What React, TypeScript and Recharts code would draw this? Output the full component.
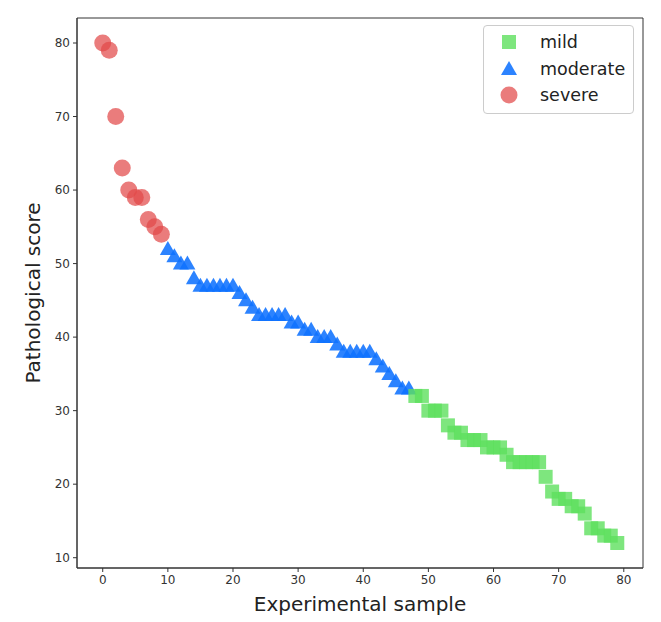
import React from 'react';
import { ScatterChart, Scatter, XAxis, YAxis, ReferenceArea, Legend } from 'recharts';

// pathological score per sample, samples sorted from worst to best
const severeScores = [80, 79, 70, 63, 60, 59, 59, 56, 55, 54];
const moderateScores = [
  52, 51, 50, 50, 48, 47, 47, 47, 47, 47, 47, 46, 45, 44, 43, 43, 43, 43, 43,
  42, 42, 41, 41, 40, 40, 40, 39, 38, 38, 38, 38, 38, 37, 36, 35, 34, 33, 33,
];
const mildScores = [
  32, 32, 30, 30, 30, 28, 27, 27, 26, 26, 26, 25, 25, 25, 24, 23, 23, 23, 23,
  23, 21, 19, 18, 18, 17, 17, 16, 14, 14, 13, 13, 12,
];

const xTicks = [0, 10, 20, 30, 40, 50, 60, 70, 80];
const yTicks = [10, 20, 30, 40, 50, 60, 70, 80];

const toPoints = (scores: number[], start: number) =>
  scores.map((y, i) => ({ x: start + i, y }));

const severeData = toPoints(severeScores, 0);
const moderateData = toPoints(moderateScores, severeScores.length);
const mildData = toPoints(mildScores, severeScores.length + moderateScores.length);

const RED = '#e24a4a';
const BLUE = '#0f72ff';
const GREEN = '#5ee05e';

const Circle = (props: any) => (
  <circle cx={props.cx} cy={props.cy} r={8.5} fill={RED} fillOpacity={0.72} />
);

const Triangle = (props: any) => {
  const { cx, cy } = props;
  return (
    <polygon
      points={`${cx},${cy - 8} ${cx - 8},${cy + 6} ${cx + 8},${cy + 6}`}
      fill={BLUE}
      fillOpacity={0.88}
    />
  );
};

const Square = (props: any) => (
  <rect x={props.cx - 7} y={props.cy - 7} width={14} height={14} fill={GREEN} fillOpacity={0.8} />
);

const legendItems = [
  { name: 'mild', icon: <rect x={3} y={3} width={14} height={14} fill={GREEN} fillOpacity={0.8} /> },
  { name: 'moderate', icon: <polygon points="10,2 2,16 18,16" fill={BLUE} fillOpacity={0.88} /> },
  { name: 'severe', icon: <circle cx={10} cy={10} r={8.5} fill={RED} fillOpacity={0.72} /> },
];

const LegendBox = () => (
  <div
    style={{
      background: '#fff',
      border: '1px solid #cccccc',
      borderRadius: 4,
      padding: '3px 0 4px 0',
      fontFamily: '"DejaVu Sans", sans-serif',
      fontSize: 17.5,
      color: '#222',
    }}
  >
    {legendItems.map((it) => (
      <div key={it.name} style={{ display: 'flex', alignItems: 'center', height: 26.5 }}>
        <svg width={20} height={20} style={{ marginLeft: 15, marginRight: 21 }}>
          {it.icon}
        </svg>
        <span>{it.name}</span>
      </div>
    ))}
  </div>
);

const tickStyle = { fill: '#333', fontSize: 12, fontFamily: '"DejaVu Sans", sans-serif' };

export default function App() {
  return (
    <div style={{ position: 'absolute', left: 0, top: 0, background: '#fff' }}>
      <ScatterChart width={661} height={622} margin={{ top: 18, right: 18, bottom: 0, left: 0 }}>
        <XAxis
          type="number"
          dataKey="x"
          domain={[-3.95, 82.95]}
          ticks={xTicks}
          height={54}
          tickSize={4}
          tickMargin={3}
          tick={tickStyle}
          stroke="#333"
          allowDataOverflow
          label={{
            content: ({ viewBox }: any) => (
              <text
                x={viewBox.x + viewBox.width / 2}
                y={viewBox.y + 43}
                textAnchor="middle"
                fontSize={20}
                fontFamily='"DejaVu Sans", sans-serif'
                fill="#222"
              >
                Experimental sample
              </text>
            ),
          }}
        />
        <YAxis
          type="number"
          dataKey="y"
          domain={[8.6, 83.4]}
          ticks={yTicks}
          width={77}
          tickSize={4}
          tickMargin={3}
          tick={tickStyle}
          stroke="#333"
          allowDataOverflow
          label={{
            content: ({ viewBox }: any) => {
              const cx = 33;
              const cy = viewBox.y + viewBox.height / 2;
              return (
                <text
                  x={cx}
                  y={cy}
                  transform={`rotate(-90 ${cx} ${cy})`}
                  textAnchor="middle"
                  dominantBaseline="central"
                  fontSize={20}
                  fontFamily='"DejaVu Sans", sans-serif'
                  fill="#222"
                >
                  Pathological score
                </text>
              );
            },
          }}
        />
        <ReferenceArea x1={-3.95} x2={82.95} y1={8.6} y2={83.4} fill="none" stroke="#333" strokeWidth={1} />
        <Scatter name="severe" data={severeData} shape={Circle} isAnimationActive={false} />
        <Scatter name="moderate" data={moderateData} shape={Triangle} isAnimationActive={false} />
        <Scatter name="mild" data={mildData} shape={Square} isAnimationActive={false} />
        <Legend
          layout="vertical"
          align="center"
          verticalAlign="middle"
          content={() => <LegendBox />}
          wrapperStyle={{ position: 'absolute', left: 483, top: 25, width: 151 }}
        />
      </ScatterChart>
    </div>
  );
}
